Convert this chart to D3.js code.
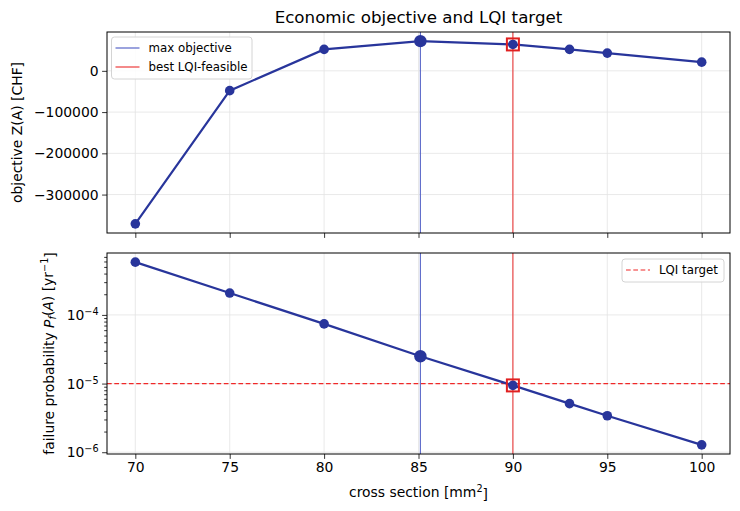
<!DOCTYPE html>
<html>
<head>
<meta charset="utf-8">
<script src="https://cdn.jsdelivr.net/npm/d3@7"></script>
<style>
  body { margin: 0; background: #fff; }
  svg { font-family: "DejaVu Sans", sans-serif; }
</style>
</head>
<body>
<div id="chart"></div>
<script>
// data
var sections = [70, 75, 80, 85.1, 90, 93, 95, 100];
var objective = [-371000, -48000, 52000, 72000, 64000, 52000, 43000, 21000];
var failProb = [5.87e-4, 2.08e-4, 7.4e-5, 2.5e-5, 9.4e-6, 5.1e-6, 3.4e-6, 1.28e-6];
var xTicks = [70, 75, 80, 85, 90, 95, 100];
var objTicks = [0, -100000, -200000, -300000];
var pfTicks = [1e-4, 1e-5, 1e-6];
var bestObjective = 85.1;
var bestFeasible = 90;
var lqiTarget = 1e-5;

var W = 740, H = 511;
var left = 107, right = 730;
var top1 = 32, bot1 = 233, top2 = 253, bot2 = 454;
var lineCol = '#28359b';
var blueV = '#5866c8';
var redV = '#ec3b3b';
var dashRed = '#f02828';
var gridCol = '#e3e3e3';

var svg = d3.select('#chart').append('svg')
    .attr('width', W).attr('height', H);

// x scale with matplotlib style 5% margins
var xe = d3.extent(sections), xp = (xe[1] - xe[0]) * 0.05;
var x = d3.scaleLinear().domain([xe[0] - xp, xe[1] + xp]).range([left, right]);

var ye = d3.extent(objective), yp = (ye[1] - ye[0]) * 0.05;
var y1 = d3.scaleLinear().domain([ye[0] - yp, ye[1] + yp]).range([bot1, top1]);

var le = d3.extent(failProb).map(Math.log10), lp = (le[1] - le[0]) * 0.05;
var y2 = d3.scaleLog().domain([Math.pow(10, le[0] - lp), Math.pow(10, le[1] + lp)]).range([bot2, top2]);

function clip(id, t, b) {
    svg.append('clipPath').attr('id', id).append('rect')
        .attr('x', left).attr('y', t).attr('width', right - left).attr('height', b - t);
}
clip('c1', top1, bot1);
clip('c2', top2, bot2);

function fmtNum(v) { return v < 0 ? '\u2212' + Math.abs(v) : String(v); }

// plot groups and grid
function panel(yScale, yTicks, t, b, clipId) {
    var plot = svg.append('g').attr('clip-path', 'url(#' + clipId + ')');
    plot.selectAll('line.gx').data(xTicks).enter().append('line')
        .attr('class', 'gx')
        .attr('x1', d => x(d)).attr('x2', d => x(d)).attr('y1', t).attr('y2', b)
        .style('stroke', gridCol).style('stroke-width', 0.8);
    plot.selectAll('line.gy').data(yTicks).enter().append('line')
        .attr('class', 'gy')
        .attr('x1', left).attr('x2', right).attr('y1', d => yScale(d)).attr('y2', d => yScale(d))
        .style('stroke', gridCol).style('stroke-width', 0.8);
    return {plot: plot, t: t, b: b};
}
var p1 = panel(y1, objTicks, top1, bot1, 'c1');
var p2 = panel(y2, pfTicks, top2, bot2, 'c2');

p2.plot.append('line')
    .attr('x1', left).attr('x2', right).attr('y1', y2(lqiTarget)).attr('y2', y2(lqiTarget))
    .style('stroke', dashRed).style('stroke-width', 1.3).style('stroke-dasharray', '4.7,2.6');

function drawSeries(p, yScale, vals) {
    p.plot.append('line')
        .attr('x1', x(bestObjective)).attr('x2', x(bestObjective)).attr('y1', p.t).attr('y2', p.b)
        .style('stroke', blueV).style('stroke-width', 1.1);
    p.plot.append('line')
        .attr('x1', x(bestFeasible)).attr('x2', x(bestFeasible)).attr('y1', p.t).attr('y2', p.b)
        .style('stroke', redV).style('stroke-width', 1.1);

    var line = d3.line().x((d, i) => x(sections[i])).y(d => yScale(d));
    p.plot.append('path').datum(vals)
        .attr('d', line).style('fill', 'none')
        .style('stroke', lineCol).style('stroke-width', 2.2);
    p.plot.selectAll('circle.pt').data(vals).enter().append('circle')
        .attr('class', 'pt')
        .attr('cx', (d, i) => x(sections[i])).attr('cy', d => yScale(d))
        .attr('r', (d, i) => sections[i] === bestObjective ? 6.2 : 4.8)
        .style('fill', lineCol);
    var fi = sections.indexOf(bestFeasible);
    p.plot.append('rect')
        .attr('x', x(bestFeasible) - 6).attr('y', yScale(vals[fi]) - 6)
        .attr('width', 12).attr('height', 12)
        .style('fill', 'none').style('stroke', '#e02020').style('stroke-width', 2);
}
drawSeries(p1, y1, objective);
drawSeries(p2, y2, failProb);

// frames
[[top1, bot1], [top2, bot2]].forEach(function(r) {
    svg.append('rect').attr('x', left).attr('y', r[0])
        .attr('width', right - left).attr('height', r[1] - r[0])
        .style('fill', 'none').style('stroke', '#000').style('stroke-width', 1);
});

// axes
var xAx1 = svg.append('g').attr('transform', 'translate(0,' + bot1 + ')')
    .call(d3.axisBottom(x).tickValues(xTicks).tickSize(4.9).tickFormat(''));
var xAx2 = svg.append('g').attr('transform', 'translate(0,' + bot2 + ')')
    .call(d3.axisBottom(x).tickValues(xTicks).tickSize(4.9).tickPadding(3.5).tickFormat(d3.format('d')));
var yAx1 = svg.append('g').attr('transform', 'translate(' + left + ',0)')
    .call(d3.axisLeft(y1).tickValues(objTicks).tickSize(4.9).tickPadding(3.5).tickFormat(fmtNum));

var minor = [];
[-7, -6, -5, -4, -3].forEach(function(e) {
    for (var k = 2; k <= 9; k++) {
        var v = k * Math.pow(10, e);
        if (v >= y2.domain()[0] && v <= y2.domain()[1]) minor.push(v);
    }
});
var yAx2m = svg.append('g').attr('transform', 'translate(' + left + ',0)')
    .call(d3.axisLeft(y2).tickValues(minor).tickSize(2.8).tickFormat(''));
var yAx2 = svg.append('g').attr('transform', 'translate(' + left + ',0)')
    .call(d3.axisLeft(y2).tickValues(pfTicks).tickSize(4.9).tickFormat(''));

[xAx1, xAx2, yAx1, yAx2, yAx2m].forEach(function(a) {
    a.select('.domain').remove();
    a.selectAll('line').style('stroke', '#000').style('stroke-width', 0.8);
    a.selectAll('text').style('font-size', '13.9px').style('fill', '#000')
        .style('font-family', '"DejaVu Sans", sans-serif');
});

// log tick labels with superscripts, own group
var logLab = svg.append('g');
pfTicks.forEach(function(d) {
    var t = logLab.append('text')
        .attr('x', left - 8.4).attr('y', y2(d)).attr('dy', '0.36em')
        .style('text-anchor', 'end').style('font-size', '13.9px').style('fill', '#000');
    t.append('tspan').text('10');
    t.append('tspan').attr('dy', '-0.5em').style('font-size', '9.7px')
        .text('\u2212' + Math.abs(Math.round(Math.log10(d))));
});

// title and labels
svg.append('text').attr('x', (left + right) / 2).attr('y', 23)
    .style('text-anchor', 'middle').style('font-size', '16.7px').text('Economic objective and LQI target');

svg.append('text').attr('transform', 'translate(22,' + (top1 + bot1) / 2 + ') rotate(-90)')
    .style('text-anchor', 'middle').style('font-size', '13.9px').text('objective Z(A) [CHF]');

var yl2 = svg.append('text').attr('transform', 'translate(54,' + (top2 + bot2) / 2 + ') rotate(-90)')
    .style('text-anchor', 'middle').style('font-size', '13.9px');
yl2.append('tspan').text('failure probability ');
yl2.append('tspan').style('font-style', 'italic').text('P');
yl2.append('tspan').style('font-style', 'italic').style('font-size', '9.7px').attr('dy', '0.25em').text('f');
yl2.append('tspan').attr('dy', '-0.25em').text('(');
yl2.append('tspan').style('font-style', 'italic').text('A');
yl2.append('tspan').text(') [yr');
yl2.append('tspan').style('font-size', '9.7px').attr('dy', '-0.5em').text('\u22121');
yl2.append('tspan').attr('dy', '0.5em').text(']');

var xl = svg.append('text').attr('x', (left + right) / 2).attr('y', 497)
    .style('text-anchor', 'middle').style('font-size', '13.9px');
xl.append('tspan').text('cross section [mm');
xl.append('tspan').style('font-size', '9.7px').attr('dy', '-0.5em').text('2');
xl.append('tspan').attr('dy', '0.5em').text(']');

// legends
function legend(lx, ly, w, items) {
    var g = svg.append('g');
    g.append('rect').attr('x', lx).attr('y', ly).attr('width', w).attr('height', items.length * 19 + 4)
        .attr('rx', 3).style('fill', 'white').style('fill-opacity', 0.85)
        .style('stroke', '#d4d4d4').style('stroke-width', 1);
    items.forEach(function(it, i) {
        var cy = ly + 11 + i * 19;
        g.append('line').attr('x1', lx + 4).attr('x2', lx + 28).attr('y1', cy).attr('y2', cy)
            .style('stroke', it.color).style('stroke-width', 1.2)
            .style('stroke-dasharray', it.dash || 'none');
        g.append('text').attr('x', lx + 37).attr('y', cy).attr('dy', '0.35em')
            .style('font-size', '11.8px').text(it.label);
    });
}
legend(111.5, 37, 140.5, [
    {label: 'max objective', color: blueV},
    {label: 'best LQI-feasible', color: redV}
]);
legend(622, 259, 102, [
    {label: 'LQI target', color: dashRed, dash: '4.7,2.6'}
]);
</script>
</body>
</html>
